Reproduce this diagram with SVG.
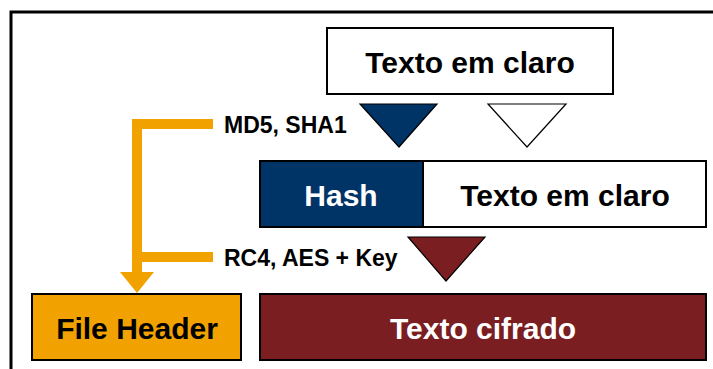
<svg xmlns="http://www.w3.org/2000/svg" width="713" height="369" viewBox="0 0 713 369">
  <style>
    .box { stroke: #000; stroke-width: 2; }
    .lbl { font-family: "Liberation Sans", Arial, sans-serif; font-weight: bold; font-size: 30px; text-anchor: middle; }
    .alg { font-family: "Liberation Sans", Arial, sans-serif; font-weight: bold; font-size: 23px; fill: #000; }
    .tri { stroke: #000; stroke-width: 1.2; stroke-linejoin: miter; }
    .flow { fill: none; stroke: #F2A200; stroke-width: 10; }
  </style>
  <rect width="713" height="369" fill="#fff"/>
  <!-- outer frame -->
  <rect x="11" y="12" width="720" height="400" fill="none" stroke="#000" stroke-width="3"/>

  <g id="plain-top">
    <rect class="box" x="327" y="28" width="286" height="66" fill="#fff"/>
    <text class="lbl" x="470" y="73" fill="#000">Texto em claro</text>
  </g>

  <g id="hash">
    <rect class="box" x="260" y="161" width="163" height="66" fill="#003366"/>
    <text class="lbl" x="341" y="206" fill="#fff">Hash</text>
  </g>

  <g id="plain-mid">
    <rect class="box" x="423" y="161" width="283" height="66" fill="#fff"/>
    <text class="lbl" x="565" y="206" fill="#000">Texto em claro</text>
  </g>

  <g id="file-header">
    <rect class="box" x="32" y="294" width="209" height="66" fill="#F2A200"/>
    <text class="lbl" x="137" y="339" fill="#000">File Header</text>
  </g>

  <g id="cipher">
    <rect class="box" x="260" y="294" width="446" height="66" fill="#7A1E21"/>
    <text class="lbl" x="483" y="339" fill="#fff">Texto cifrado</text>
  </g>

  <g id="connectors">
    <!-- downward flow triangles -->
    <polygon class="tri" points="360,104 437,104 399,147" fill="#003366"/>
    <polygon class="tri" points="488,104 566,104 527,147" fill="#fff"/>
    <polygon class="tri" points="408,237 485,237 446,281" fill="#7A1E21"/>
    <!-- header bracket with arrow into the file header -->
    <path class="flow" d="M213,124 H137 V257 H213"/>
    <path class="flow" d="M137,257 V273"/>
    <polygon points="120,272 154,272 137,293" fill="#F2A200"/>
    <text class="alg" x="224" y="133">MD5, SHA1</text>
    <text class="alg" x="224" y="266">RC4, AES + Key</text>
  </g>
</svg>
